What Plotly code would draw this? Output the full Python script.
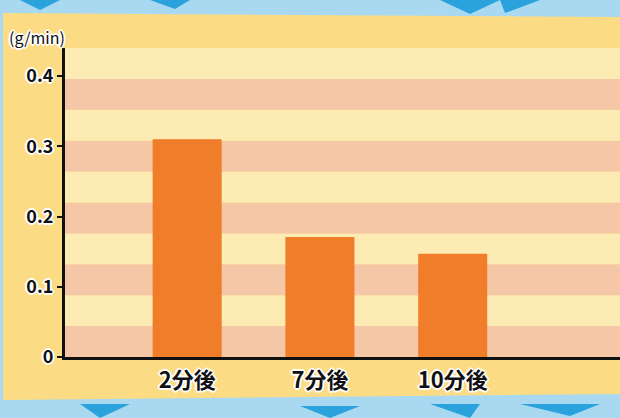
import plotly.graph_objects as go

# ---- data ----
categories = ["2分後", "7分後", "10分後"]
values = [0.310, 0.171, 0.147]
y_ticks = [0, 0.1, 0.2, 0.3, 0.4]
y_ticklabels = ["0", "0.1", "0.2", "0.3", "0.4"]
unit_label = "(g/min)"

W, H = 620, 418
ML, MR, MT, MB = 65, 0, 48, 61
PW, PH = W - ML - MR, H - MT - MB

def px_x(px):
    return (px - ML) / PW

def px_y(py):
    return (H - MB - py) / PH

YELLOW = "#fbdc84"
LIGHT = "#fcebb2"
PEACH = "#f6c7a6"
BAR = "#ef7d2a"
SKY = "#a9d9f1"
DEEP = "#2aa2dc"

outline = ("2px 0 0 #fff, -2px 0 0 #fff, 0 2px 0 #fff, 0 -2px 0 #fff, "
           "1px 1px 0 #fff, -1px -1px 0 #fff, 1px -1px 0 #fff, -1px 1px 0 #fff")

fig = go.Figure()
fig.add_trace(go.Bar(x=categories, y=values, marker_color=BAR, marker_line_width=0,
                     width=0.52, hoverinfo="skip"))

shapes = []
shapes.append(dict(type="rect", xref="paper", yref="paper", x0=px_x(0), x1=px_x(W),
                   y0=px_y(H), y1=px_y(0), fillcolor=SKY, line_width=0, layer="below"))
for pts in [[(20, 0), (60, 0), (40, 10)], [(440, 0), (500, 0), (470, 14)],
            [(500, 0), (540, 0), (505, 13)], [(150, 0), (190, 0), (175, 9)],
            [(300, 406), (360, 406), (330, 418)], [(430, 404), (480, 404), (470, 418)],
            [(520, 404), (600, 404), (570, 416)], [(80, 404), (130, 404), (100, 418)]]:
    path = "M " + " L ".join(f"{px_x(a)},{px_y(b)}" for a, b in pts) + " Z"
    shapes.append(dict(type="path", xref="paper", yref="paper", path=path,
                       fillcolor=DEEP, line_width=0, layer="below"))
panel = [(3, 13), (W, 17), (W, 394), (3, 400)]
shapes.append(dict(type="path", xref="paper", yref="paper",
                   path="M " + " L ".join(f"{px_x(a)},{px_y(b)}" for a, b in panel) + " Z",
                   fillcolor=YELLOW, line_width=0, layer="below"))
band = 0.044
for i in range(10):
    shapes.append(dict(type="rect", xref="paper", yref="y", x0=0, x1=1,
                       y0=i * band, y1=(i + 1) * band,
                       fillcolor=PEACH if i % 2 == 0 else LIGHT, line_width=0, layer="below"))

fig.update_layout(
    width=W, height=H,
    margin=dict(l=ML, r=MR, t=MT, b=MB),
    paper_bgcolor=YELLOW, plot_bgcolor=LIGHT,
    showlegend=False,
    shapes=shapes,
    font=dict(family="Noto Sans CJK JP, Noto Sans, sans-serif", color="#111"),
    annotations=[dict(text=unit_label, xref="paper", yref="paper",
                      x=px_x(37), y=px_y(37), xanchor="center", yanchor="middle",
                      showarrow=False,
                      font=dict(size=16, color="#111", shadow=outline))],
)
fig.update_xaxes(range=[-0.92, 3.26], showgrid=False, showline=True, linecolor="#111",
                 linewidth=3, ticks="", tickfont=dict(size=22, color="#111", shadow=outline,
                 weight="bold"), ticklabelstandoff=2, fixedrange=True)
fig.update_yaxes(range=[0, 0.44], tickvals=y_ticks, ticktext=y_ticklabels, showgrid=False,
                 showline=True, linecolor="#111", linewidth=3, ticks="outside", ticklen=5,
                 tickwidth=2, tickcolor="#111", zeroline=False,
                 tickfont=dict(size=18, color="#111", shadow=outline, weight="bold"),
                 fixedrange=True)

fig.write_html("out.html", config={"displayModeBar": False},
               post_script="document.body.style.margin='0';")
